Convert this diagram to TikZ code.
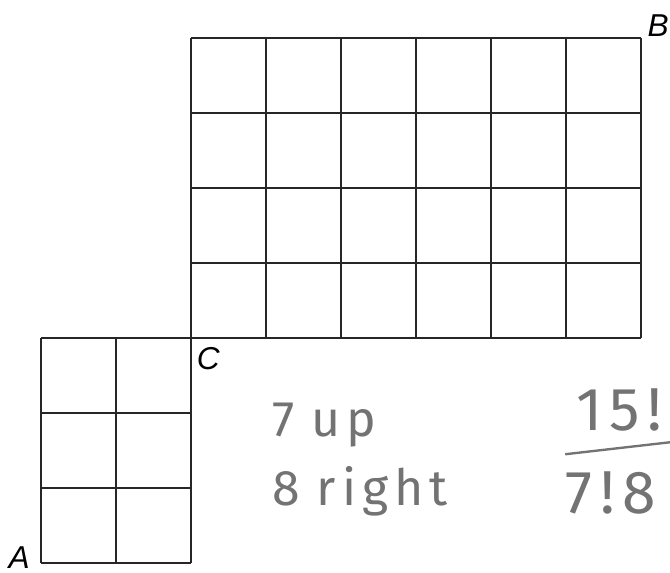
\documentclass[tikz,border=0pt]{standalone}
\usepackage{fontspec}
\newfontfamily\labelfont{Liberation Sans}
\newfontfamily\handfont{Fira Sans}[LetterSpace=12]
\usetikzlibrary{positioning}

\begin{document}
\begin{tikzpicture}[x=1cm, y=1cm]
			\tikzstyle{gridline} = [draw=black!85, line width=0.8pt]
			\tikzstyle{corner} = [font=\labelfont\itshape\fontsize{12}{14}\selectfont, inner sep=0pt]
			\tikzstyle{pencil} = [font=\handfont\fontsize{19}{21}\selectfont, text=black!55, inner sep=0pt, anchor=base west]
			\tikzstyle{bigpencil} = [pencil, font=\handfont\fontsize{23}{25}\selectfont]
			\useasboundingbox (-0.547,-0.133) rectangle (8.387,7.507);

			% small block, A to C
			\draw[gridline] (0,0) grid (2,3);
			% big block, C to B
			\draw[gridline] (2,3) grid (8,7);

			\path
			node[corner] (A) at (-0.29,0.07) {A}
			node[corner] (B) at (8.23,7.16) {B}
			node[corner] (C) at (2.23,2.73) {C}

			node[pencil] (up) at (3.08,1.69) {7\,\,up}
			node[pencil] (right) at (3.08,0.76) {8\,\,right}
			node[bigpencil] (num) at (7.13,1.77) {15!}
			node[bigpencil] (den) at (6.98,0.66) {7!8}
			;

			% fraction bar
			\coordinate (barl) at (6.99,1.45);
			\coordinate (barr) at (8.39,1.61);
			\draw[black!55, line width=0.9pt] (barl) -- (barr);
\end{tikzpicture}
\end{document}
